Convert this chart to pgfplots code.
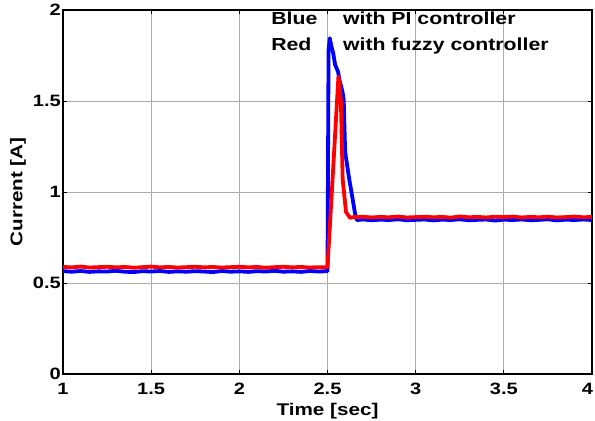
\documentclass[border=0pt]{standalone}
\usepackage{fontspec}
\setmainfont{Liberation Sans}[FakeStretch=1.22]
\usepackage{pgfplots}
\pgfplotsset{compat=1.18}

% current with the PI controller
\pgfplotstableread{
t i
1.00 0.565
1.05 0.562
1.10 0.566
1.15 0.561
1.20 0.564
1.25 0.563
1.30 0.567
1.35 0.562
1.40 0.560
1.45 0.565
1.50 0.563
1.55 0.566
1.60 0.561
1.65 0.564
1.70 0.562
1.75 0.565
1.80 0.563
1.85 0.560
1.90 0.566
1.95 0.562
2.00 0.564
2.05 0.561
2.10 0.565
2.15 0.563
2.20 0.567
2.25 0.562
2.30 0.564
2.35 0.561
2.40 0.566
2.45 0.563
2.500 0.565
2.506 1.780
2.513 1.845
2.522 1.800
2.533 1.760
2.543 1.700
2.560 1.660
2.568 1.615
2.585 1.550
2.592 1.505
2.600 1.220
2.624 1.066
2.637 0.993
2.656 0.883
2.666 0.846
2.70 0.849
2.75 0.845
2.80 0.848
2.85 0.846
2.90 0.850
2.95 0.845
3.00 0.847
3.05 0.849
3.10 0.844
3.15 0.848
3.20 0.846
3.25 0.850
3.30 0.845
3.35 0.847
3.40 0.849
3.45 0.843
3.50 0.848
3.55 0.846
3.60 0.849
3.65 0.845
3.70 0.847
3.75 0.850
3.80 0.844
3.85 0.848
3.90 0.846
3.95 0.849
4.00 0.846
}\piData

% current with the fuzzy controller
\pgfplotstableread{
t i
1.00 0.588
1.05 0.586
1.10 0.590
1.15 0.585
1.20 0.587
1.25 0.589
1.30 0.586
1.35 0.588
1.40 0.584
1.45 0.587
1.50 0.590
1.55 0.586
1.60 0.588
1.65 0.585
1.70 0.587
1.75 0.589
1.80 0.586
1.85 0.588
1.90 0.585
1.95 0.587
2.00 0.589
2.05 0.586
2.10 0.588
2.15 0.584
2.20 0.587
2.25 0.589
2.30 0.586
2.35 0.588
2.40 0.585
2.45 0.587
2.500 0.586
2.562 1.634
2.576 1.500
2.586 1.070
2.605 0.890
2.628 0.858
2.65 0.862
2.70 0.864
2.75 0.860
2.80 0.863
2.85 0.861
2.90 0.865
2.95 0.860
3.00 0.862
3.05 0.864
3.10 0.861
3.15 0.863
3.20 0.859
3.25 0.866
3.30 0.861
3.35 0.863
3.40 0.860
3.45 0.864
3.50 0.862
3.55 0.865
3.60 0.860
3.65 0.863
3.70 0.861
3.75 0.864
3.80 0.860
3.85 0.862
3.90 0.865
3.95 0.861
4.00 0.863
}\fuzzyData

\begin{document}
\begin{tikzpicture}
\useasboundingbox (-63bp,-47bp) rectangle (532bp,374bp);
\begin{axis}[
  scale only axis,
  width=529bp, height=364bp,
  xmin=1, xmax=4, ymin=0, ymax=2,
  xtick={1,1.5,...,4}, ytick={0,0.5,...,2},
  tick align=inside,
  major tick length=4bp,
  tick style={black, line width=0.8bp},
  axis line style={black, line width=1.8bp},
  grid=major,
  major grid style={gray!65, line width=0.7bp},
  /pgf/number format/assume math mode=true,
  /pgf/number format/fixed,
  ticklabel style={font=\fontsize{16.5}{18}\selectfont\bfseries},
  % the last label is pulled in so that it stays on the page
  xticklabel={\ifdim\tick pt>3.9pt\hspace*{-9bp}\fi\pgfmathprintnumber{\tick}},
  xticklabel style={inner sep=1bp, yshift=-8bp},
  yticklabel style={inner sep=1bp, xshift=-1bp},
  xlabel={Time [sec]},
  ylabel={Current [A]},
  label style={font=\fontsize{17}{19}\selectfont\bfseries},
  xlabel style={at={(axis description cs:0.5,0)}, anchor=base, yshift=-41bp},
  ylabel style={at={(axis description cs:-0.085,0.5)}, anchor=center},
]
\addplot[blue, line width=3.8bp, line join=round] table[x=t, y=i] {\piData};
\addplot[red, line width=3.8bp, line join=round] table[x=t, y=i] {\fuzzyData};
\node[anchor=base west, inner sep=0pt, font=\fontsize{17.5}{20}\selectfont\bfseries] at (axis cs:2.18,1.921) {Blue};
\node[anchor=base west, inner sep=0pt, font=\fontsize{17.5}{20}\selectfont\bfseries] at (axis cs:2.18,1.780) {Red};
\node[anchor=base west, inner sep=0pt, font=\fontsize{17.5}{20}\selectfont\bfseries] at (axis cs:2.587,1.921) {with PI controller};
\node[anchor=base west, inner sep=0pt, font=\fontsize{17.5}{20}\selectfont\bfseries] at (axis cs:2.587,1.780) {with fuzzy controller};
\end{axis}
\end{tikzpicture}
\end{document}
